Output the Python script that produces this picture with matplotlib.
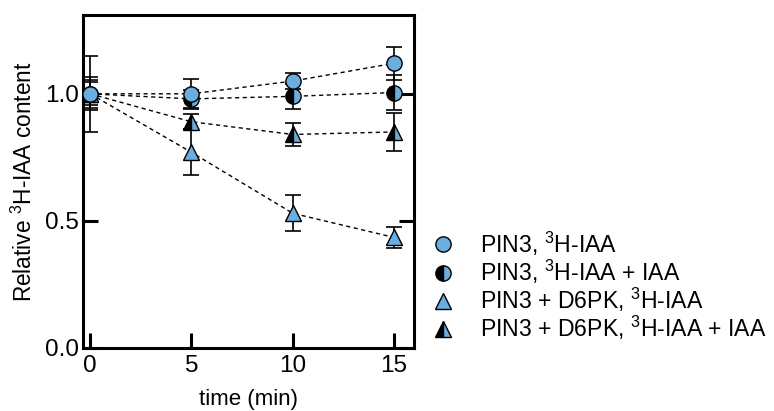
import matplotlib
matplotlib.use("Agg")
import matplotlib.pyplot as plt
from matplotlib.lines import Line2D

plt.rcParams["font.family"] = ["Liberation Sans", "DejaVu Sans"]
plt.rcParams["mathtext.default"] = "regular"

BLUE = "#6aaee0"

time_min = [0, 5, 10, 15]

pin3 = [1.0, 1.0, 1.05, 1.12]
pin3_err = [0.15, 0.06, 0.03, 0.065]

pin3_iaa = [1.0, 0.98, 0.99, 1.005]
pin3_iaa_err = [0.045, 0.035, 0.05, 0.07]

d6pk = [1.0, 0.77, 0.53, 0.435]
d6pk_err = [0.055, 0.09, 0.07, 0.04]

d6pk_iaa = [1.0, 0.89, 0.84, 0.85]
d6pk_iaa_err = [0.065, 0.03, 0.045, 0.075]

labels = [
    "PIN3, $^{3}$H-IAA",
    "PIN3, $^{3}$H-IAA + IAA",
    "PIN3 + D6PK, $^{3}$H-IAA",
    "PIN3 + D6PK, $^{3}$H-IAA + IAA",
]

styles = [
    dict(marker="o", markerfacecolor=BLUE),
    dict(marker="o", fillstyle="left", markerfacecolor="black", markerfacecoloralt=BLUE),
    dict(marker="^", markerfacecolor=BLUE),
    dict(marker="^", fillstyle="left", markerfacecolor="black", markerfacecoloralt=BLUE),
]
# draw order: triangles first, blue circles last (on top)
series = [
    (d6pk, d6pk_err, 2),
    (d6pk_iaa, d6pk_iaa_err, 3),
    (pin3_iaa, pin3_iaa_err, 1),
    (pin3, pin3_err, 0),
]

fig = plt.figure(figsize=(7.74, 4.11), dpi=100)
ax = fig.add_axes([0.1072, 0.1533, 0.428, 0.8102])

for values, errors, idx in series:
    ax.errorbar(time_min, values, yerr=errors, fmt="none", ecolor="black",
                elinewidth=1.2, capsize=5.5, capthick=1.2, zorder=2)
for n, (values, errors, idx) in enumerate(series):
    ax.plot(time_min, values, linestyle=(0, (3, 2.5)), color="black", lw=1.0,
            markersize=11, markeredgecolor="black", markeredgewidth=1.0,
            zorder=3 + n * 0.1, **styles[idx])

ax.set_xlim(-0.35, 16)
ax.set_ylim(0, 1.31)
ax.set_xticks([0, 5, 10, 15])
ax.set_yticks([0.0, 0.5, 1.0])
ax.set_yticklabels(["0.0", "0.5", "1.0"])
ax.tick_params(axis="both", direction="in", length=11, width=2.2, labelsize=17.5, pad=5)
ax.tick_params(axis="y", right=True, pad=3)
for spine in ax.spines.values():
    spine.set_linewidth(2.2)

ax.set_xlabel("time (min)", fontsize=16, labelpad=9)
ax.set_ylabel("Relative $^{3}$H-IAA content", fontsize=16.3, labelpad=6)

handles = [
    Line2D([], [], linestyle="none", markersize=11, markeredgecolor="black",
           markeredgewidth=1.0, **styles[i])
    for i in range(4)
]
fig.legend(handles, labels, loc="upper left", bbox_to_anchor=(0.543, 0.47),
           frameon=False, fontsize=16.6, handlelength=1.0, handletextpad=1.1,
           labelspacing=0.0, borderpad=0.0)

fig.savefig("out.png", dpi=100)
